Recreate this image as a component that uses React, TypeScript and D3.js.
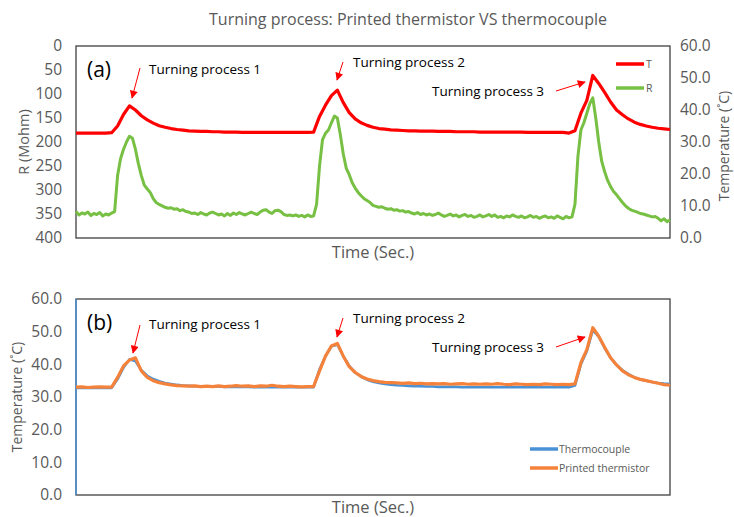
import React, { useEffect, useRef } from "react";
import * as d3 from "d3";

// time axis (seconds, arbitrary units) shared by the series
const timeT = d3.range(0, 1001, 10);
const timeR = d3.range(0, 1001, 5);

// top panel: T (°C, right axis)
const tempT = [
  32.8, 32.8, 32.8, 32.8, 32.8, 32.8, 32.9, 35.0, 38.6, 41.3, 40.0, 38.2, 36.9, 35.9, 35.1, 34.6, 34.2, 33.9, 33.7, 33.5,
  33.4, 33.3, 33.3, 33.2, 33.2, 33.1, 33.1, 33.1, 33.0, 33.0, 33.0, 33.0, 33.0, 33.0, 33.0, 33.0, 33.0, 33.0, 33.0, 33.0,
  33.1, 38.0, 41.5, 44.5, 46.2, 42.3, 39.2, 37.2, 36.0, 35.2, 34.6, 34.2, 34.0, 33.8, 33.7, 33.6, 33.5, 33.5, 33.4, 33.4,
  33.4, 33.3, 33.3, 33.3, 33.2, 33.2, 33.2, 33.2, 33.1, 33.1, 33.1, 33.1, 33.1, 33.1, 33.1, 33.1, 33.0, 33.0, 33.0, 33.0,
  33.0, 33.0, 33.0, 32.8, 33.5, 39.0, 43.0, 50.8, 48.3, 45.5, 42.5, 40.0, 38.5, 37.2, 36.2, 35.5, 35.0, 34.6, 34.3, 34.1,
  33.9,
];

// top panel: R (Mohm, left axis, reversed)
const resR = [
  345, 352, 348, 350, 346, 353, 349, 351, 347, 354, 350, 352, 348, 345, 270, 235, 215, 200, 188, 192,
  215, 245, 270, 290, 298, 305, 318, 326, 330, 333, 336, 338, 337, 340, 339, 343, 341, 345, 346, 349,
  348, 351, 347, 350, 352, 348, 346, 349, 352, 350, 354, 349, 353, 348, 351, 347, 350, 352, 349, 346,
  349, 351, 346, 342, 341, 346, 349, 343, 342, 345, 351, 353, 352, 354, 352, 355, 353, 356, 352, 355,
  354, 330, 250, 195, 182, 175, 160, 146, 150, 185, 225, 255, 268, 285, 296, 305, 312, 318, 322, 326,
  332, 334, 336, 335, 338, 340, 339, 342, 341, 344, 343, 346, 345, 348, 350, 347, 351, 349, 352, 350,
  353, 351, 348, 352, 355, 353, 350, 354, 352, 356, 353, 351, 355, 353, 357, 355, 352, 356, 354, 351,
  355, 352, 357, 355, 358, 354, 356, 352, 355, 357, 354, 358, 356, 353, 357, 355, 359, 356, 354, 358,
  356, 359, 354, 357, 360, 355, 358, 356, 330, 230, 175, 160, 140, 120, 108, 150, 200, 240, 262, 280,
  293, 303, 310, 318, 326, 333, 338, 342, 344, 346, 349, 350, 352, 354, 356, 355, 359, 364, 360, 366,
  362,
];

// bottom panel (°C)
const thermocouple = [
  32.8, 32.8, 32.8, 32.8, 32.8, 32.8, 32.8, 35.5, 39.0, 41.5, 41.0, 38.2, 36.5, 35.5, 34.8, 34.3, 34.0, 33.7, 33.5, 33.4,
  33.3, 33.2, 33.2, 33.2, 33.2, 33.1, 33.1, 33.1, 33.1, 33.1, 33.0, 33.0, 33.0, 33.0, 33.0, 33.0, 33.0, 33.0, 33.0, 33.0,
  33.0, 38.5, 42.5, 45.5, 46.0, 42.5, 39.5, 37.5, 36.2, 35.3, 34.7, 34.3, 34.0, 33.8, 33.6, 33.5, 33.4, 33.3, 33.3, 33.2,
  33.2, 33.1, 33.1, 33.1, 33.1, 33.0, 33.0, 33.0, 33.0, 33.0, 33.0, 33.0, 33.0, 33.0, 33.0, 33.0, 33.0, 33.0, 33.0, 33.0,
  33.0, 33.0, 33.0, 33.0, 33.5, 40.0, 44.0, 50.5, 48.5, 45.0, 42.0, 39.8, 38.2, 37.0, 36.0, 35.4, 35.0, 34.6, 34.3, 34.1,
  34.0,
];
const printedThermistor = [
  33.0, 33.1, 32.9, 33.0, 33.1, 33.0, 33.0, 36.0, 39.5, 41.3, 42.0, 38.0, 36.0, 35.0, 34.4, 34.0, 33.7, 33.5, 33.4, 33.3,
  33.4, 33.2, 33.3, 33.2, 33.4, 33.2, 33.3, 33.5, 33.3, 33.4, 33.2, 33.4, 33.3, 33.6, 33.3, 33.2, 33.3, 33.2, 33.1, 33.2,
  33.2, 38.0, 42.5, 45.6, 46.4, 42.5, 39.3, 37.5, 36.3, 35.5, 35.0, 34.7, 34.5, 34.4, 34.3, 34.2, 34.3, 34.1, 34.2, 34.0,
  34.1, 34.0, 34.1, 33.9, 34.0, 34.1, 33.9, 34.0, 33.9, 34.0, 33.9, 34.1, 33.9, 33.8, 34.0, 33.9, 33.8, 33.9, 33.8, 34.0,
  33.9, 33.8, 33.9, 33.8, 34.0, 40.5, 44.5, 51.2, 48.6, 45.2, 42.0, 39.8, 38.0, 36.8, 36.0, 35.4, 35.0, 34.6, 34.2, 33.8,
  33.6,
];

const rTicks = [0, 50, 100, 150, 200, 250, 300, 350, 400];
const tempTicks = [0, 10, 20, 30, 40, 50, 60];

const FONT = "'Open Sans', 'Noto Sans', sans-serif";
const GRAY = "#595959";

const App = () => {
  const svgRef = useRef<SVGSVGElement | null>(null);

  useEffect(() => {
    const svg = d3.select(svgRef.current);
    svg.selectAll("*").remove();

    const left = 76;
    const right = 670;
    const x = d3.scaleLinear().domain([0, 1000]).range([left, right]);

    // arrow marker
    svg
      .append("defs")
      .append("marker")
      .attr("id", "arrowhead")
      .attr("viewBox", "0 0 10 10")
      .attr("refX", 9)
      .attr("refY", 5)
      .attr("markerWidth", 9)
      .attr("markerHeight", 8)
      .attr("markerUnits", "userSpaceOnUse")
      .attr("orient", "auto")
      .append("path")
      .attr("d", "M0,0 L10,5 L0,10 z")
      .attr("fill", "#ff0000");

    const arrow = (x1: number, y1: number, x2: number, y2: number) => {
      svg
        .append("line")
        .attr("x1", x1)
        .attr("y1", y1)
        .attr("x2", x2)
        .attr("y2", y2)
        .attr("stroke", "#ff0000")
        .attr("stroke-width", 1)
        .attr("marker-end", "url(#arrowhead)");
    };

    const label = (tx: number, ty: number, text: string, size: number, anchor = "start", color = "#000") => {
      svg
        .append("text")
        .attr("x", tx)
        .attr("y", ty)
        .attr("text-anchor", anchor)
        .attr("font-family", FONT)
        .attr("font-size", size)
        .attr("fill", color)
        .text(text);
    };

    // title
    label(408, 25, "Turning process: Printed thermistor VS thermocouple", 16, "middle", GRAY);

    // ---------- top panel ----------
    const top1 = 46;
    const bot1 = 238;
    const yR = d3.scaleLinear().domain([0, 400]).range([top1, bot1]);
    const yT1 = d3.scaleLinear().domain([0, 60]).range([bot1, top1]);

    svg
      .append("rect")
      .attr("x", left)
      .attr("y", top1)
      .attr("width", right - left)
      .attr("height", bot1 - top1)
      .attr("fill", "none")
      .attr("stroke", "#404040")
      .attr("stroke-width", 1.3);

    rTicks.forEach((t) =>
      svg
        .append("text")
        .attr("x", 62)
        .attr("y", yR(t))
        .attr("dy", "0.35em")
        .attr("text-anchor", "end")
        .attr("font-family", FONT)
        .attr("font-size", 15.5)
        .attr("fill", GRAY)
        .text(d3.format("d")(t))
    );
    tempTicks.forEach((t) =>
      svg
        .append("text")
        .attr("x", 680)
        .attr("y", yT1(t))
        .attr("dy", "0.35em")
        .attr("font-family", FONT)
        .attr("font-size", 15.5)
        .attr("fill", GRAY)
        .text(d3.format(".1f")(t))
    );

    svg
      .append("text")
      .attr("transform", `translate(29,${(top1 + bot1) / 2}) rotate(-90)`)
      .attr("text-anchor", "middle")
      .attr("font-family", FONT)
      .attr("font-size", 14.5)
      .attr("fill", GRAY)
      .text("R (Mohm)");
    svg
      .append("text")
      .attr("transform", `translate(729,${(top1 + bot1) / 2 + 4}) rotate(-90)`)
      .attr("text-anchor", "middle")
      .attr("font-family", FONT)
      .attr("font-size", 14)
      .attr("fill", GRAY)
      .text("Temperature (˚C)");
    label(373, 258, "Time (Sec.)", 16.5, "middle", GRAY);

    const lineR = d3
      .line<number>()
      .x((_, i) => x(timeR[i]))
      .y((d) => yR(d));
    const lineT1 = d3
      .line<number>()
      .x((_, i) => x(timeT[i]))
      .y((d) => yT1(d));

    svg
      .append("path")
      .attr("d", lineR(resR))
      .attr("fill", "none")
      .attr("stroke", "#77c043")
      .attr("stroke-width", 3)
      .attr("stroke-linejoin", "round");
    svg
      .append("path")
      .attr("d", lineT1(tempT))
      .attr("fill", "none")
      .attr("stroke", "#ff0000")
      .attr("stroke-width", 3.2)
      .attr("stroke-linejoin", "round");

    // legend top
    svg.append("line").attr("x1", 616).attr("x2", 644).attr("y1", 64).attr("y2", 64).attr("stroke", "#ff0000").attr("stroke-width", 3.5);
    label(646, 68, "T", 10.5, "start", GRAY);
    svg.append("line").attr("x1", 616).attr("x2", 644).attr("y1", 88).attr("y2", 88).attr("stroke", "#77c043").attr("stroke-width", 3.5);
    label(646, 92, "R", 10.5, "start", GRAY);

    label(87, 77, "(a)", 21);
    label(149, 74, "Turning process 1", 13.5);
    arrow(140, 68, 132, 98);
    label(353, 67, "Turning process 2", 13.5);
    arrow(343, 62, 337, 80);
    label(432, 96, "Turning process 3", 13.5);
    arrow(556, 91, 585, 82);

    // ---------- bottom panel ----------
    const top2 = 299;
    const bot2 = 495;
    const yT2 = d3.scaleLinear().domain([0, 60]).range([bot2, top2]);

    svg
      .append("rect")
      .attr("x", left)
      .attr("y", top2)
      .attr("width", right - left)
      .attr("height", bot2 - top2)
      .attr("fill", "none")
      .attr("stroke", "#404040")
      .attr("stroke-width", 1.3);
    svg
      .append("line")
      .attr("x1", left)
      .attr("x2", left)
      .attr("y1", top2)
      .attr("y2", bot2)
      .attr("stroke", "#4a92d6")
      .attr("stroke-width", 1.5);

    tempTicks.forEach((t) =>
      svg
        .append("text")
        .attr("x", 62)
        .attr("y", yT2(t))
        .attr("dy", "0.35em")
        .attr("text-anchor", "end")
        .attr("font-family", FONT)
        .attr("font-size", 15.5)
        .attr("fill", GRAY)
        .text(d3.format(".1f")(t))
    );
    svg
      .append("text")
      .attr("transform", `translate(22,${(top2 + bot2) / 2}) rotate(-90)`)
      .attr("text-anchor", "middle")
      .attr("font-family", FONT)
      .attr("font-size", 14)
      .attr("fill", GRAY)
      .text("Temperature (˚C)");
    label(373, 513, "Time (Sec.)", 16.5, "middle", GRAY);

    const lineT2 = d3
      .line<number>()
      .x((_, i) => x(timeT[i]))
      .y((d) => yT2(d));

    svg
      .append("path")
      .attr("d", lineT2(thermocouple))
      .attr("fill", "none")
      .attr("stroke", "#4a92d6")
      .attr("stroke-width", 2.6)
      .attr("stroke-linejoin", "round");
    svg
      .append("path")
      .attr("d", lineT2(printedThermistor))
      .attr("fill", "none")
      .attr("stroke", "#f5823a")
      .attr("stroke-width", 3.2)
      .attr("stroke-linejoin", "round");

    // legend bottom
    svg.append("line").attr("x1", 530).attr("x2", 558).attr("y1", 449).attr("y2", 449).attr("stroke", "#4a92d6").attr("stroke-width", 3.5);
    label(559, 453, "Thermocouple", 10.5, "start", GRAY);
    svg.append("line").attr("x1", 530).attr("x2", 558).attr("y1", 468).attr("y2", 468).attr("stroke", "#f5823a").attr("stroke-width", 3.5);
    label(559, 472, "Printed thermistor", 10.5, "start", GRAY);

    label(87, 330, "(b)", 21);
    label(149, 329, "Turning process 1", 13.5);
    arrow(140, 325, 133, 353);
    label(353, 323, "Turning process 2", 13.5);
    arrow(343, 318, 337, 337);
    label(432, 352, "Turning process 3", 13.5);
    arrow(556, 347, 585, 337);
  }, []);

  return (
    <svg
      ref={svgRef}
      width={734}
      height={517}
      xmlns="http://www.w3.org/2000/svg"
      style={{ position: "absolute", left: 0, top: 0, background: "#fff" }}
    ></svg>
  );
};

export default App;
